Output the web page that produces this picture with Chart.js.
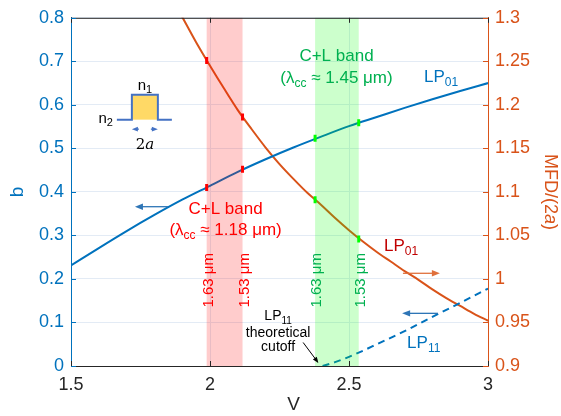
<!DOCTYPE html>
<html>
<head>
<meta charset="utf-8">
<script src="https://cdn.jsdelivr.net/npm/chart.js@4.4.1/dist/chart.umd.min.js"></script>
<style>
  html, body { margin: 0; padding: 0; background: #fff; }
  #wrap { width: 561px; height: 416px; }
</style>
</head>
<body>
<div id="wrap"><canvas id="chart"></canvas></div>
<script>
// LP01 normalized propagation constant b(V)
const vLP01 = [1.5, 1.6, 1.7, 1.8, 1.9, 2.0, 2.1, 2.2, 2.3, 2.4, 2.5, 2.6, 2.7, 2.8, 2.9, 3.0];
const bLP01 = [0.231, 0.271, 0.310, 0.347, 0.382, 0.414, 0.446, 0.475, 0.502, 0.527, 0.551, 0.572, 0.593, 0.613, 0.632, 0.650];

// LP11 b(V), from the theoretical cutoff
const vLP11 = [2.405, 2.45, 2.5, 2.55, 2.6, 2.7, 2.8, 2.9, 3.0];
const bLP11 = [0, 0.009, 0.021, 0.035, 0.050, 0.080, 0.113, 0.145, 0.178];

// LP01 mode field diameter over core diameter
const vMFD = [1.88, 1.9, 1.95, 2.0, 2.05, 2.1, 2.15, 2.2, 2.25, 2.3, 2.35, 2.4, 2.45, 2.5, 2.55, 2.6, 2.65, 2.7, 2.75, 2.8, 2.85, 2.9, 2.95, 3.0];
const mfd = [1.312, 1.301, 1.272, 1.245, 1.219, 1.194, 1.172, 1.151, 1.132, 1.115, 1.099, 1.085, 1.070, 1.056, 1.043, 1.031, 1.020, 1.009, 0.999, 0.988, 0.978, 0.969, 0.960, 0.952];

// C+L band edges (1.63 um, 1.53 um) in V for the two cutoff designs
const redBand = [1.988, 2.117];
const greenBand = [2.378, 2.535];
const bAtRed = [0.410, 0.452];
const mfdAtRed = [1.251, 1.186];
const bAtGreen = [0.523, 0.559];
const mfdAtGreen = [1.091, 1.046];
const edgeLabels = ['1.63 μm', '1.53 μm'];

const FONT = '"Liberation Sans", Arial, Helvetica, sans-serif';
const BLUE = '#0072BD';
const ORANGE = '#D95319';
const GREEN_TXT = '#00B050';
const RED = '#FF0000';
const DARK = '#262626';
const GRID = '#e3ebf5';

Chart.defaults.font.family = FONT;

function pts(xs, ys) {
    return xs.map((x, i) => ({ x: x, y: ys[i] }));
}

function fmt(v) {
    return String(Math.round(v * 100) / 100);
}

// text with subscripts / italics, parts = [{t, sub, it}]
function richText(ctx, parts, x, y, size, color, align) {
    ctx.save();
    ctx.fillStyle = color;
    ctx.textBaseline = 'middle';
    ctx.textAlign = 'left';
    const subSize = Math.round(size * 0.72);
    const fontOf = p => (p.it ? 'italic ' : '') + (p.sub ? subSize : size) + 'px ' + (p.serif ? '"DejaVu Serif", serif' : FONT);
    let w = 0;
    parts.forEach(p => { ctx.font = fontOf(p); w += ctx.measureText(p.t).width; });
    let cx = align === 'left' ? x : (align === 'right' ? x - w : x - w / 2);
    parts.forEach(p => {
        ctx.font = fontOf(p);
        ctx.fillText(p.t, cx, p.sub ? y + size * 0.32 : y);
        cx += ctx.measureText(p.t).width;
    });
    ctx.restore();
}

function arrow(ctx, x1, y1, x2, y2, color, width, head) {
    const ang = Math.atan2(y2 - y1, x2 - x1);
    ctx.save();
    ctx.strokeStyle = color;
    ctx.fillStyle = color;
    ctx.lineWidth = width;
    ctx.beginPath();
    ctx.moveTo(x1, y1);
    ctx.lineTo(x2 - Math.cos(ang) * head * 0.8, y2 - Math.sin(ang) * head * 0.8);
    ctx.stroke();
    ctx.beginPath();
    ctx.moveTo(x2, y2);
    ctx.lineTo(x2 - head * Math.cos(ang) + head * 0.4 * Math.sin(ang), y2 - head * Math.sin(ang) - head * 0.4 * Math.cos(ang));
    ctx.lineTo(x2 - head * Math.cos(ang) - head * 0.4 * Math.sin(ang), y2 - head * Math.sin(ang) + head * 0.4 * Math.cos(ang));
    ctx.closePath();
    ctx.fill();
    ctx.restore();
}

const decor = {
    id: 'decor',
    // bands go over the curves but under the edge markers
    afterDatasetDraw(chart, args) {
        if (args.index !== 4) return;
        const { ctx, chartArea: a, scales: { x } } = chart;
        ctx.save();
        [[redBand, 'rgba(255,0,0,0.2)'], [greenBand, 'rgba(0,255,0,0.2)']].forEach(([band, col]) => {
            const x0 = x.getPixelForValue(band[0]);
            const x1 = x.getPixelForValue(band[1]);
            ctx.fillStyle = col;
            ctx.fillRect(x0, a.top, x1 - x0, a.bottom - a.top);
        });
        ctx.restore();
    },
    afterDraw(chart) {
        const { ctx, chartArea: a, scales: { x, y, y1 } } = chart;
        const px = v => x.getPixelForValue(v);
        const py = v => y.getPixelForValue(v);
        const pr = v => y1.getPixelForValue(v);

        // top frame line and inward tick marks
        ctx.save();
        ctx.lineWidth = 1;
        ctx.strokeStyle = DARK;
        ctx.beginPath();
        ctx.moveTo(a.left, a.top + 0.5);
        ctx.lineTo(a.right, a.top + 0.5);
        x.ticks.forEach(t => {
            const X = Math.round(px(t.value)) + 0.5;
            ctx.moveTo(X, a.bottom);
            ctx.lineTo(X, a.bottom - 5);
            ctx.moveTo(X, a.top);
            ctx.lineTo(X, a.top + 5);
        });
        ctx.stroke();
        ctx.strokeStyle = BLUE;
        ctx.beginPath();
        y.ticks.forEach(t => {
            const Y = Math.round(py(t.value)) + 0.5;
            ctx.moveTo(a.left, Y);
            ctx.lineTo(a.left + 5, Y);
        });
        ctx.stroke();
        ctx.strokeStyle = ORANGE;
        ctx.beginPath();
        y1.ticks.forEach(t => {
            const Y = Math.round(pr(t.value)) + 0.5;
            ctx.moveTo(a.right, Y);
            ctx.lineTo(a.right - 5, Y);
        });
        ctx.stroke();
        ctx.restore();

        // axis titles
        richText(ctx, [{ t: 'V' }], px(2.25) + 14, chart.height - 11, 19, DARK, 'center');
        ctx.save();
        ctx.translate(550, (a.top + a.bottom) / 2);
        ctx.rotate(Math.PI / 2);
        richText(ctx, [{ t: 'MFD/(2' }, { t: 'a', it: true }, { t: ')' }], 0, 0, 18, ORANGE, 'center');
        ctx.restore();

        // band edge wavelengths
        [[redBand, RED], [greenBand, GREEN_TXT]].forEach(([band, col]) => {
            band.forEach((v, i) => {
                ctx.save();
                ctx.translate(px(v) + 2, py(0.197));
                ctx.rotate(-Math.PI / 2);
                ctx.fillStyle = col;
                ctx.font = '15px ' + FONT;
                ctx.textAlign = 'center';
                ctx.textBaseline = 'middle';
                ctx.fillText(edgeLabels[i], 0, 0);
                ctx.restore();
            });
        });

        // band captions
        richText(ctx, [{ t: 'C+L band' }], px(2.455), py(0.711), 17, GREEN_TXT, 'center');
        richText(ctx, [{ t: '(λ' }, { t: 'cc', sub: true }, { t: ' ≈ 1.45 μm)' }], px(2.455), py(0.661), 17, GREEN_TXT, 'center');
        richText(ctx, [{ t: 'C+L band' }], px(2.056), py(0.361), 17, RED, 'center');
        richText(ctx, [{ t: '(λ' }, { t: 'cc', sub: true }, { t: ' ≈ 1.18 μm)' }], px(2.056), py(0.312), 17, RED, 'center');

        // curve labels
        richText(ctx, [{ t: 'LP' }, { t: '01', sub: true }], px(2.77), py(0.664), 17, BLUE, 'left');
        richText(ctx, [{ t: 'LP' }, { t: '01', sub: true }], px(2.626), py(0.274), 17, '#C00000', 'left');
        richText(ctx, [{ t: 'LP' }, { t: '11', sub: true }], px(2.709), py(0.052), 17, BLUE, 'left');

        // axis pointers
        arrow(ctx, px(1.849), py(0.366), px(1.73), py(0.366), '#2E75B6', 1.3, 8);
        arrow(ctx, px(2.694), pr(1.0065), px(2.827), pr(1.0065), '#E0703C', 1.3, 8);
        arrow(ctx, px(2.82), py(0.121), px(2.691), py(0.121), '#2E75B6', 1.3, 8);

        // LP11 cutoff note
        richText(ctx, [{ t: 'LP' }, { t: '11', sub: true }], px(2.245), py(0.114), 14, '#000', 'center');
        richText(ctx, [{ t: 'theoretical' }], px(2.245), py(0.076), 14, '#000', 'center');
        richText(ctx, [{ t: 'cutoff' }], px(2.245), py(0.043), 14, '#000', 'center');
        arrow(ctx, px(2.335), py(0.054), px(2.39), py(0.007), '#000', 1, 6);

        // step-index profile sketch
        const ox = px(1.665), oy = py(0.566);
        ctx.save();
        ctx.fillStyle = '#FFD966';
        ctx.fillRect(ox + 15, oy - 25, 26, 25);
        ctx.strokeStyle = '#4472C4';
        ctx.lineWidth = 2;
        ctx.beginPath();
        ctx.moveTo(ox, oy);
        ctx.lineTo(ox + 15, oy);
        ctx.lineTo(ox + 15, oy - 25);
        ctx.lineTo(ox + 41, oy - 25);
        ctx.lineTo(ox + 41, oy);
        ctx.lineTo(ox + 55, oy);
        ctx.stroke();
        ctx.restore();
        arrow(ctx, ox + 22, oy + 9.5, ox + 15, oy + 9.5, '#4472C4', 1.3, 6);
        arrow(ctx, ox + 34, oy + 9.5, ox + 41, oy + 9.5, '#4472C4', 1.3, 6);
        richText(ctx, [{ t: 'n' }, { t: '1', sub: true }], ox + 28, oy - 34, 15, '#000', 'center');
        richText(ctx, [{ t: 'n' }, { t: '2', sub: true }], ox - 4, oy - 1, 15, '#000', 'right');
        richText(ctx, [{ t: '2' , serif: true}, { t: 'a', it: true, serif: true }], ox + 28, oy + 25, 15, '#000', 'center');
    }
};

function markerSet(xs, ys, axis, color) {
    return {
        data: pts(xs, ys),
        yAxisID: axis,
        showLine: false,
        pointStyle: 'line',
        pointRotation: 90,
        pointRadius: 3.5,
        pointBorderWidth: 3,
        pointBorderColor: color,
        pointBackgroundColor: color,
        borderColor: color,
        order: 0
    };
}

new Chart(document.getElementById('chart'), {
    type: 'line',
    data: {
        datasets: [
            markerSet(redBand, bAtRed, 'y', RED),
            markerSet(redBand, mfdAtRed, 'y1', RED),
            markerSet(greenBand, bAtGreen, 'y', '#00FF00'),
            markerSet(greenBand, mfdAtGreen, 'y1', '#00FF00'),
            {
                label: 'LP01 b',
                data: pts(vLP01, bLP01),
                yAxisID: 'y',
                borderColor: BLUE,
                borderWidth: 2,
                pointRadius: 0,
                cubicInterpolationMode: 'monotone',
                order: 1
            },
            {
                label: 'LP11 b',
                data: pts(vLP11, bLP11),
                yAxisID: 'y',
                borderColor: BLUE,
                borderWidth: 2,
                borderDash: [7, 5],
                pointRadius: 0,
                cubicInterpolationMode: 'monotone',
                order: 1
            },
            {
                label: 'MFD/(2a)',
                data: pts(vMFD, mfd),
                yAxisID: 'y1',
                borderColor: ORANGE,
                borderWidth: 2,
                pointRadius: 0,
                cubicInterpolationMode: 'monotone',
                order: 1
            }
        ]
    },
    options: {
        responsive: true,
        maintainAspectRatio: false,
        animation: false,
        events: [],
        layout: { padding: { top: 9, left: 0, right: 0, bottom: 0 } },
        plugins: {
            legend: { display: false },
            tooltip: { enabled: false }
        },
        scales: {
            x: {
                type: 'linear',
                min: 1.5,
                max: 3,
                ticks: { stepSize: 0.5, color: DARK, font: { size: 18 }, padding: 8, callback: fmt },
                grid: { color: GRID, drawTicks: false },
                border: { color: DARK, width: 1 },
                afterFit: s => { s.height = 50; }
            },
            y: {
                position: 'left',
                min: 0,
                max: 0.8,
                ticks: { stepSize: 0.1, color: BLUE, font: { size: 18 }, padding: 7, callback: fmt },
                grid: { color: GRID, drawTicks: false },
                border: { color: BLUE, width: 1 },
                title: { display: true, text: 'b', color: BLUE, font: { size: 19 }, padding: { top: 6, bottom: 0 } },
                afterFit: s => { s.width = 71; }
            },
            y1: {
                position: 'right',
                min: 0.9,
                max: 1.3,
                ticks: { stepSize: 0.05, color: ORANGE, font: { size: 18 }, padding: 7, callback: fmt },
                grid: { drawOnChartArea: false, drawTicks: false },
                border: { color: ORANGE, width: 1 },
                afterFit: s => { s.width = 73; }
            }
        }
    },
    plugins: [decor]
});
</script>
</body>
</html>
